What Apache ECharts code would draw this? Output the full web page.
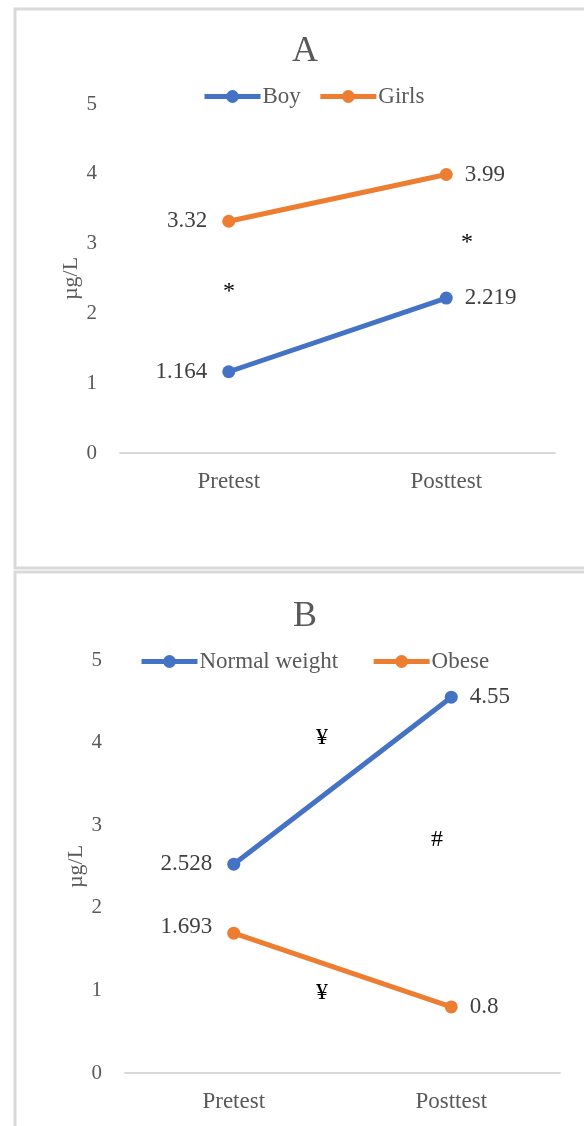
<!DOCTYPE html>
<html>
<head>
<meta charset="utf-8">
<script src="https://cdn.jsdelivr.net/npm/echarts@6/dist/echarts.min.js"></script>
<style>
  html, body { margin: 0; padding: 0; background: #fff; }
  #chart { width: 584px; height: 1126px; }
</style>
</head>
<body>
<div id="chart"></div>
<script>
const categories = ['Pretest', 'Posttest'];
const boyValues = [1.164, 2.219];
const girlsValues = [3.32, 3.99];
const normalWeightValues = [2.528, 4.55];
const obeseValues = [1.693, 0.8];
const yMin = 0, yMax = 5, yStep = 1;

// significance marks drawn next to the lines
const notes = [
  { text: '*', x: 229, y: 292 },
  { text: '*', x: 467, y: 243 },
  { text: '¥', x: 322, y: 738 },
  { text: '#', x: 437, y: 840 },
  { text: '¥', x: 322, y: 993 }
];

const BLUE = '#4472C4';
const ORANGE = '#ED7D31';
const FONT = "'Liberation Serif', 'DejaVu Serif', serif";
const GREY = '#595959';

const chart = echarts.init(document.getElementById('chart'));

function xAxisFor(gridIndex) {
  return {
    type: 'category',
    gridIndex: gridIndex,
    data: categories,
    boundaryGap: true,
    axisLine: { lineStyle: { color: '#d9d9d9', width: 2 } },
    axisTick: { show: false },
    axisLabel: { color: GREY, fontFamily: FONT, fontSize: 23, margin: 17 }
  };
}

function yAxisFor(gridIndex) {
  return {
    type: 'value',
    gridIndex: gridIndex,
    min: yMin,
    max: yMax,
    interval: yStep,
    name: 'µg/L',
    nameLocation: 'middle',
    nameGap: 38,
    nameMoveOverlap: false,
    nameTextStyle: { color: GREY, fontFamily: FONT, fontSize: 22 },
    axisLine: { show: false },
    axisTick: { show: false },
    splitLine: { show: false },
    axisLabel: { color: GREY, fontFamily: FONT, fontSize: 21, margin: 23 }
  };
}

function lineSeries(name, values, color, idx, labelOffsets) {
  return {
    name: name,
    type: 'line',
    xAxisIndex: idx,
    yAxisIndex: idx,
    data: values.map((v, i) => ({
      value: v,
      label: {
        position: i === 0 ? 'left' : 'right',
        distance: i === 0 ? 15 : 12,
        offset: labelOffsets ? labelOffsets[i] : [0, 0]
      }
    })),
    symbol: 'circle',
    symbolSize: 13,
    lineStyle: { color: color, width: 5 },
    itemStyle: { color: color },
    label: {
      show: true,
      color: '#404040',
      fontFamily: FONT,
      fontSize: 23
    },
    emphasis: { disabled: true }
  };
}

const legendBase = {
  orient: 'horizontal',
  itemWidth: 56,
  itemHeight: 16,
  itemGap: 17,
  textStyle: { color: GREY, fontFamily: FONT, fontSize: 23, padding: [0, 0, 0, -3] },
  lineStyle: { width: 5 }
};

const option = {
  animation: false,
  title: [
    { text: 'A', left: 300, top: 29, textAlign: 'center',
      textStyle: { color: GREY, fontFamily: FONT, fontSize: 36, fontWeight: 'normal' } },
    { text: 'B', left: 300, top: 594, textAlign: 'center',
      textStyle: { color: GREY, fontFamily: FONT, fontSize: 36, fontWeight: 'normal' } }
  ],
  legend: [
    Object.assign({}, legendBase, { data: ['Boy', 'Girls'], left: 197, top: 80 }),
    Object.assign({}, legendBase, { data: ['Normal weight', 'Obese'], left: 134, top: 645, itemGap: 33 })
  ],
  grid: [
    { left: 120, right: 29, top: 104, height: 349 },
    { left: 125, right: 24, top: 660, height: 413 }
  ],
  xAxis: [xAxisFor(0), xAxisFor(1)],
  yAxis: [yAxisFor(0), yAxisFor(1)],
  series: [
    lineSeries('Boy', boyValues, BLUE, 0),
    lineSeries('Girls', girlsValues, ORANGE, 0),
    lineSeries('Normal weight', normalWeightValues, BLUE, 1),
    lineSeries('Obese', obeseValues, ORANGE, 1, [[0, -6], [0, 0]])
  ],
  graphic: [
    { type: 'rect', shape: { x: 15, y: 9, width: 620, height: 559 },
      style: { fill: 'none', stroke: '#d9d9d9', lineWidth: 3 }, silent: true },
    { type: 'rect', shape: { x: 15, y: 572, width: 620, height: 620 },
      style: { fill: 'none', stroke: '#d9d9d9', lineWidth: 3 }, silent: true }
  ].concat(notes.map(n => ({
    type: 'text',
    x: n.x,
    y: n.y,
    silent: true,
    style: {
      text: n.text,
      fill: '#000',
      font: "24px " + FONT,
      align: 'center',
      verticalAlign: 'middle'
    }
  })))
};

chart.setOption(option);
window.addEventListener('resize', () => chart.resize());
</script>
</body>
</html>
